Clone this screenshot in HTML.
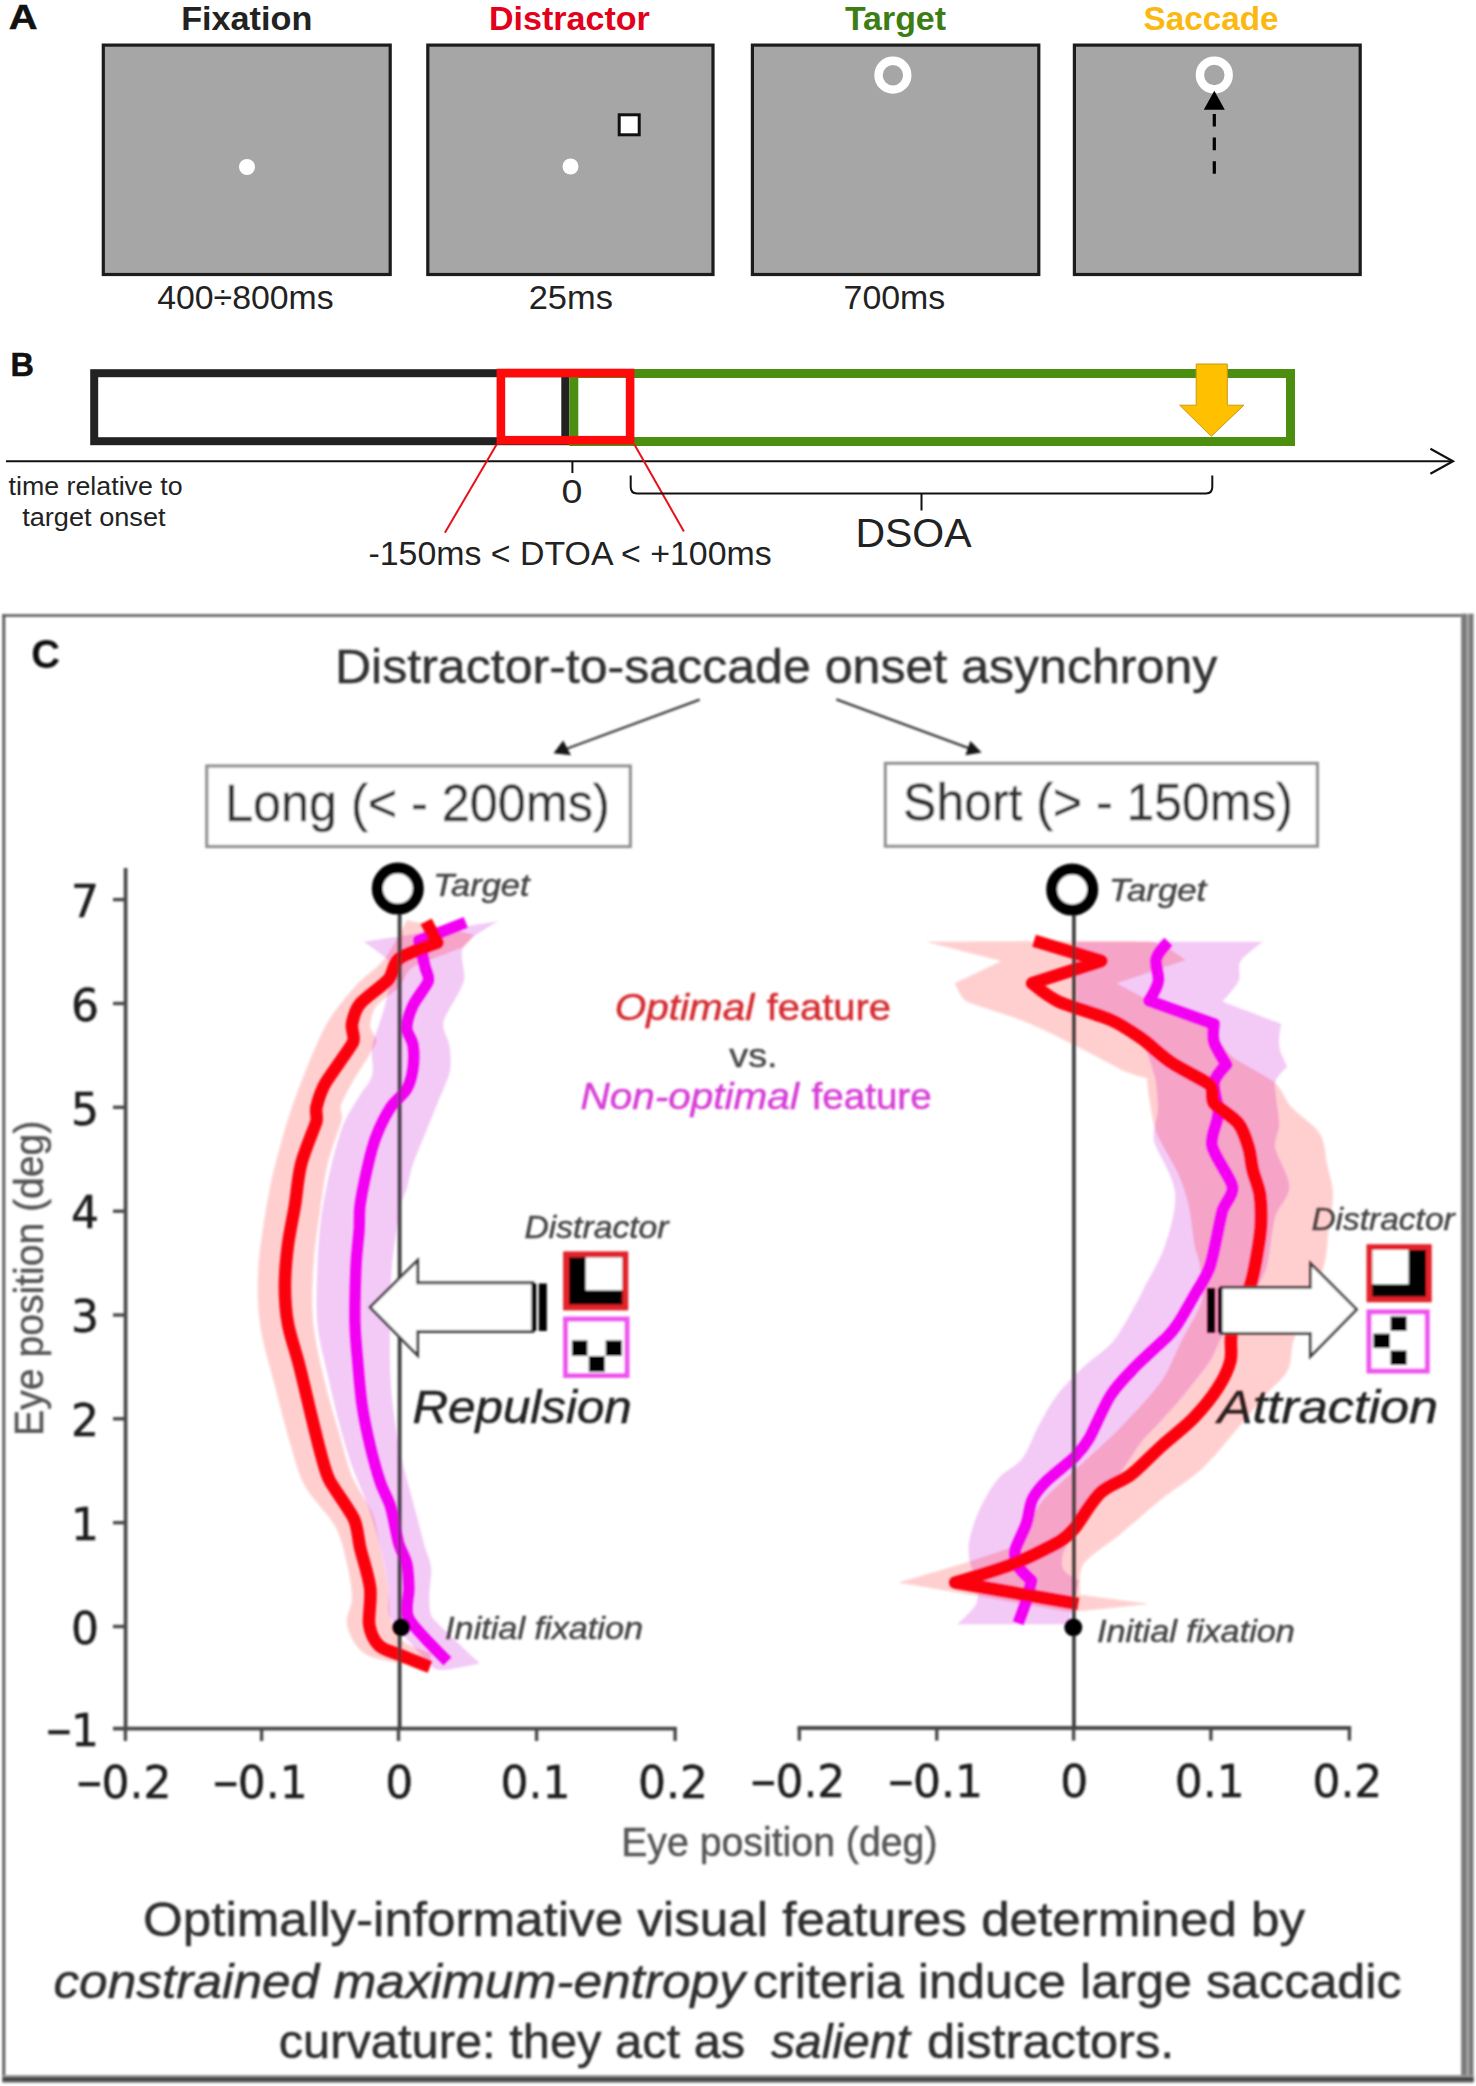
<!DOCTYPE html>
<html lang="en"><head><meta charset="utf-8"><title>Figure</title>
<style>html,body{margin:0;padding:0;background:#fff}svg{display:block}text{font-family:"Liberation Sans",sans-serif}</style>
</head><body>
<svg width="1476" height="2086" viewBox="0 0 1476 2086">
<rect x="0" y="0" width="1476" height="2086" fill="#fff"/>
<g id="panelA">
<text x="8.8" y="29.0" font-size="35" fill="#111" font-weight="bold" textLength="28.8" lengthAdjust="spacingAndGlyphs" stroke="#111" stroke-width="0.5">A</text>
<rect x="103.3" y="45.1" width="286.9" height="229.4" fill="#a6a6a6" stroke="#1c1c1c" stroke-width="3.2"/>
<rect x="427.8" y="45.1" width="285.2" height="229.4" fill="#a6a6a6" stroke="#1c1c1c" stroke-width="3.2"/>
<rect x="752.4" y="45.1" width="286.4" height="229.4" fill="#a6a6a6" stroke="#1c1c1c" stroke-width="3.2"/>
<rect x="1074.4" y="45.1" width="285.8" height="229.4" fill="#a6a6a6" stroke="#1c1c1c" stroke-width="3.2"/>
<text x="181.2" y="30.0" font-size="33" fill="#222" font-weight="bold" textLength="131.1" lengthAdjust="spacingAndGlyphs">Fixation</text>
<text x="489.0" y="30.0" font-size="33" fill="#e2001a" font-weight="bold" textLength="160.8" lengthAdjust="spacingAndGlyphs">Distractor</text>
<text x="844.9" y="30.0" font-size="33" fill="#3c7d14" font-weight="bold" textLength="101.1" lengthAdjust="spacingAndGlyphs">Target</text>
<text x="1143.6" y="30.0" font-size="33" fill="#fbb811" font-weight="bold" textLength="135.0" lengthAdjust="spacingAndGlyphs">Saccade</text>
<text x="157.2" y="309.0" font-size="33" fill="#222" textLength="176.4" lengthAdjust="spacingAndGlyphs">400÷800ms</text>
<text x="528.7" y="309.0" font-size="33" fill="#222" textLength="84.2" lengthAdjust="spacingAndGlyphs">25ms</text>
<text x="843.6" y="309.0" font-size="33" fill="#222" textLength="101.7" lengthAdjust="spacingAndGlyphs">700ms</text>
<circle cx="247" cy="167" r="8" fill="#fff"/>
<circle cx="570.5" cy="166.5" r="8" fill="#fff"/>
<rect x="619.2" y="114.8" width="20" height="20" fill="#fff" stroke="#111" stroke-width="3"/>
<circle cx="892.9" cy="75.2" r="14.4" fill="#a6a6a6" stroke="#fff" stroke-width="8.4"/>
<circle cx="1214.3" cy="75" r="14.4" fill="#a6a6a6" stroke="#fff" stroke-width="8.4"/>
<polygon points="1214.3,90.7 1224.8,109.7 1203.8,109.7" fill="#000"/>
<line x1="1214.3" y1="114" x2="1214.3" y2="174.5" stroke="#000" stroke-width="3.2" stroke-dasharray="12.6 11"/>
</g>
<g id="panelB">
<text x="10.6" y="376.0" font-size="32.5" fill="#111" font-weight="bold" stroke="#111" stroke-width="0.5">B</text>
<rect x="94.2" y="373.2" width="471.1" height="68" fill="#fff" stroke="#222" stroke-width="8"/>
<rect x="573.8" y="373.5" width="716.7" height="68" fill="#fff" stroke="#4c8f10" stroke-width="9"/>
<rect x="500.9" y="373" width="129.2" height="67.2" fill="none" stroke="#ff0a0a" stroke-width="8.6"/>
<line x1="6" y1="461.3" x2="1452" y2="461.3" stroke="#111" stroke-width="2"/>
<polyline points="1430.4,448.8 1453,461.3 1430.4,473.8" fill="none" stroke="#111" stroke-width="2.2"/>
<line x1="572.4" y1="461" x2="572.4" y2="473" stroke="#111" stroke-width="2"/>
<line x1="496.6" y1="444.4" x2="444.9" y2="532.7" stroke="#e8101a" stroke-width="2"/>
<line x1="634.4" y1="444.4" x2="683.9" y2="531.5" stroke="#e8101a" stroke-width="2"/>
<path d="M630.7,475.4 V487 Q630.7,493.4 637,493.4 H1206 Q1212.3,493.4 1212.3,487 V475.4 M921.5,493.4 V510.5" fill="none" stroke="#111" stroke-width="2"/>
<polygon points="1196.2,364 1227.3,364 1227.3,405.2 1243.9,405.2 1211.3,436.3 1179.7,405.2 1196.2,405.2" fill="#ffc000" stroke="#c79a10" stroke-width="1"/>
<text x="8.6" y="495.4" font-size="26.5" fill="#222" textLength="174.0" lengthAdjust="spacingAndGlyphs">time relative to</text>
<text x="22.2" y="525.5" font-size="26.5" fill="#222" textLength="143.4" lengthAdjust="spacingAndGlyphs">target onset</text>
<text x="561.5" y="503.4" font-size="33" fill="#222" textLength="20.9" lengthAdjust="spacingAndGlyphs">0</text>
<text x="368.5" y="565.0" font-size="33.4" fill="#222" textLength="403.2" lengthAdjust="spacingAndGlyphs">-150ms &lt; DTOA &lt; +100ms</text>
<text x="855.4" y="546.6" font-size="40" fill="#222" textLength="116.2" lengthAdjust="spacingAndGlyphs">DSOA</text>
</g>
<defs><filter id="soft" x="-2%" y="-2%" width="104%" height="104%"><feGaussianBlur stdDeviation="0.8"/></filter></defs>
<g id="panelC" filter="url(#soft)">
<rect x="2.3" y="614.2" width="1471" height="2.6" fill="#5e5e5e"/>
<rect x="2.3" y="614.2" width="3" height="1468" fill="#5e5e5e"/>
<rect x="1461" y="613.8" width="12.6" height="1468" fill="#a8a8a8"/>
<rect x="1461.4" y="613.8" width="5.2" height="1468" fill="#7a7a7a"/>
<rect x="1469" y="613.8" width="4.2" height="1468" fill="#7a7a7a"/>
<rect x="2.6" y="2075" width="1471" height="8" fill="#9a9a9a"/>
<rect x="2.6" y="2077" width="1471" height="4.6" fill="#474747"/>
<text x="31.2" y="668.0" font-size="40" fill="#111" font-weight="bold">C</text>
<text x="334.9" y="682.7" font-size="49" fill="#333" textLength="882.4" lengthAdjust="spacingAndGlyphs" stroke="#333" stroke-width="0.5">Distractor-to-saccade onset asynchrony</text>
<line x1="699.7" y1="699.6" x2="566" y2="749" stroke="#3a3a3a" stroke-width="2.3"/>
<polygon points="553.5,753.3 563.2,740.5 571,755.2" fill="#161616"/>
<line x1="836.3" y1="699.3" x2="970" y2="748.6" stroke="#3a3a3a" stroke-width="2.3"/>
<polygon points="981.6,752.6 970.4,741.1 965.4,755.3" fill="#161616"/>
<rect x="206.8" y="766" width="423.5" height="80.5" fill="#fff" stroke="#919191" stroke-width="3.2"/>
<rect x="885.4" y="763.4" width="432" height="82.8" fill="#fff" stroke="#919191" stroke-width="3.2"/>
<text x="224.9" y="821.0" font-size="51" fill="#333" textLength="384.8" lengthAdjust="spacingAndGlyphs" stroke="#333" stroke-width="0.5">Long (&lt; - 200ms)</text>
<text x="903.1" y="819.6" font-size="51" fill="#333" textLength="389.9" lengthAdjust="spacingAndGlyphs" stroke="#333" stroke-width="0.5">Short (&gt; - 150ms)</text>
<path d="M364.1,941.7 C364.1,941.7 381.3,954.0 384.5,956.9 C387.7,959.8 392.6,962.7 392.6,967.0 C392.6,971.3 388.3,993.0 385.0,1005.7 C381.7,1018.4 374.0,1037.0 372.3,1046.3 C370.6,1055.6 374.2,1067.1 372.3,1074.8 C370.4,1082.5 364.1,1088.3 360.1,1095.1 C356.1,1101.9 348.0,1113.5 343.8,1123.6 C339.6,1133.7 334.9,1150.5 331.6,1164.2 C328.3,1177.9 323.9,1198.1 321.5,1215.0 C319.1,1231.9 318.0,1248.9 317.4,1265.9 C316.8,1282.9 315.8,1306.8 317.4,1324.0 C319.0,1341.2 323.9,1357.9 327.6,1374.8 C331.3,1391.7 336.2,1411.9 339.8,1425.6 C343.4,1439.3 347.3,1452.9 352.0,1466.3 C356.7,1479.7 363.5,1493.5 368.2,1506.9 C372.9,1520.3 377.1,1534.2 380.4,1547.6 C383.7,1561.0 387.1,1578.1 388.5,1588.2 C389.9,1598.3 385.6,1609.8 390.6,1618.7 C395.6,1627.6 429.7,1664.3 433.3,1667.5 C436.9,1670.7 442.7,1669.9 447.5,1669.5 C452.3,1669.1 480.0,1663.4 480.0,1663.4 C480.0,1663.4 437.6,1624.1 433.3,1618.7 C429.0,1613.3 429.5,1605.3 429.2,1598.4 C428.9,1591.5 431.8,1574.9 431.2,1567.9 C430.6,1560.9 427.0,1554.4 425.1,1547.6 C423.2,1540.8 419.7,1527.3 417.0,1517.1 C414.3,1506.9 411.5,1496.8 408.9,1486.6 C406.3,1476.4 401.1,1459.7 398.7,1446.0 C396.3,1432.3 392.4,1405.3 391.0,1385.0 C389.6,1364.7 389.8,1343.4 390.0,1324.0 C390.2,1304.6 390.3,1285.2 392.0,1265.9 C393.7,1246.6 399.6,1210.6 400.7,1204.9 C401.8,1199.2 405.1,1194.2 406.8,1188.6 C408.5,1183.0 410.1,1172.1 412.9,1164.2 C415.7,1156.3 427.9,1126.9 433.3,1113.4 C438.7,1099.9 447.4,1081.4 449.5,1072.8 C451.6,1064.2 450.5,1054.6 449.5,1046.3 C448.5,1038.0 441.6,1030.2 443.4,1022.0 C445.2,1013.8 460.7,992.4 463.7,981.3 C466.7,970.2 457.9,956.7 463.7,946.7 C469.5,936.7 498.3,921.3 498.3,921.3 C498.3,921.3 364.1,941.7 364.1,941.7Z" fill="rgba(215,75,225,0.30)"/>
<path d="M406.8,920.3 C406.8,920.3 392.5,948.7 384.5,958.9 C376.5,969.1 364.6,975.7 356.0,985.4 C347.4,995.1 333.6,1011.1 325.5,1026.0 C317.4,1040.9 303.4,1076.5 297.1,1093.1 C290.8,1109.7 285.5,1127.1 280.8,1143.9 C276.1,1160.7 271.7,1177.6 268.6,1194.7 C265.5,1211.8 259.8,1246.6 258.5,1265.9 C257.2,1285.2 257.4,1304.8 260.0,1324.0 C262.6,1343.2 269.5,1364.7 274.7,1385.0 C279.9,1405.3 286.9,1432.3 291.0,1446.0 C295.1,1459.7 298.3,1474.0 305.2,1486.6 C312.1,1499.2 329.1,1514.8 335.7,1527.3 C342.3,1539.8 345.6,1557.9 347.9,1567.9 C350.2,1577.9 352.2,1590.1 352.0,1598.4 C351.8,1606.7 346.2,1615.0 346.9,1622.8 C347.6,1630.6 352.0,1639.6 356.0,1645.1 C360.0,1650.6 365.9,1655.2 372.3,1657.3 C378.7,1659.4 429.2,1669.5 429.2,1669.5 C429.2,1669.5 431.2,1653.3 431.2,1653.3 C431.2,1653.3 409.2,1646.5 402.8,1641.0 C396.4,1635.5 392.8,1626.9 390.6,1618.7 C388.4,1610.5 389.9,1598.3 388.5,1588.2 C387.1,1578.1 382.9,1559.2 380.4,1547.6 C377.9,1536.0 376.7,1524.0 372.3,1513.0 C367.9,1502.0 357.4,1489.3 352.0,1476.4 C346.6,1463.5 343.7,1449.4 339.8,1435.8 C335.9,1422.2 329.6,1402.1 325.5,1385.0 C321.4,1367.9 315.3,1343.3 313.3,1324.0 C311.3,1304.7 312.3,1283.0 313.3,1265.9 C314.3,1248.8 317.0,1231.9 319.4,1215.0 C321.8,1198.1 324.0,1179.4 327.6,1164.2 C331.2,1149.0 340.8,1124.1 341.8,1119.5 C342.8,1114.9 339.5,1109.9 340.8,1105.3 C342.1,1100.7 347.9,1090.2 352.0,1082.9 C356.1,1075.6 374.5,1047.8 376.3,1042.3 C378.1,1036.8 370.2,1031.8 370.2,1026.0 C370.2,1020.2 372.1,1011.4 376.3,1005.7 C380.5,1000.0 393.0,993.4 398.7,987.4 C404.4,981.4 405.9,971.5 412.9,967.1 C419.9,962.7 459.0,949.2 463.7,946.7 C468.4,944.2 473.9,934.6 473.9,934.6 C473.9,934.6 406.8,920.3 406.8,920.3Z" fill="rgba(255,30,30,0.22)"/>
<path d="M1077.0,941.7 C1077.0,941.7 1262.9,941.7 1262.9,941.7 C1262.9,941.7 1244.2,955.2 1240.6,961.0 C1237.0,966.8 1241.3,975.1 1238.5,981.3 C1235.7,987.5 1222.3,1001.6 1222.3,1001.6 C1222.3,1001.6 1281.2,1024.0 1281.2,1024.0 C1281.2,1024.0 1278.2,1039.2 1279.2,1046.3 C1280.2,1053.4 1287.3,1066.7 1287.3,1066.7 C1287.3,1066.7 1276.1,1076.2 1275.1,1082.9 C1274.1,1089.6 1279.2,1115.4 1279.2,1123.6 C1279.2,1131.8 1273.8,1139.9 1275.1,1148.0 C1276.4,1156.1 1289.3,1175.4 1289.3,1186.6 C1289.3,1197.8 1278.1,1206.3 1275.1,1217.1 C1272.1,1227.9 1269.4,1257.2 1267.0,1265.9 C1264.6,1274.6 1259.8,1282.4 1255.0,1290.0 C1250.2,1297.6 1226.8,1329.0 1222.0,1336.6 C1217.2,1344.2 1215.1,1353.5 1210.1,1361.0 C1205.1,1368.5 1188.5,1389.2 1181.6,1397.6 C1174.7,1406.0 1166.2,1415.1 1160.0,1422.0 C1153.8,1428.9 1146.6,1434.9 1141.0,1442.3 C1135.4,1449.7 1120.2,1474.6 1113.7,1482.9 C1107.2,1491.2 1097.6,1497.8 1091.4,1505.3 C1085.2,1512.8 1079.7,1521.8 1075.1,1529.7 C1070.5,1537.6 1064.3,1548.9 1062.9,1554.1 C1061.5,1559.3 1061.2,1565.9 1063.9,1570.3 C1066.6,1574.7 1079.2,1580.5 1079.2,1580.5 C1079.2,1580.5 1074.6,1598.5 1073.1,1604.9 C1071.6,1611.3 1069.0,1624.2 1069.0,1624.2 C1069.0,1624.2 957.2,1624.2 957.2,1624.2 C957.2,1624.2 972.4,1610.9 975.5,1604.9 C978.6,1598.9 978.5,1591.3 977.6,1584.6 C976.7,1577.9 970.6,1566.9 969.4,1560.2 C968.2,1553.5 968.1,1546.5 969.4,1539.8 C970.7,1533.1 975.1,1519.0 979.6,1509.3 C984.1,1499.6 991.1,1487.0 997.9,1478.9 C1004.7,1470.8 1015.8,1466.9 1022.3,1458.5 C1028.8,1450.1 1032.8,1436.4 1038.5,1426.0 C1044.2,1415.6 1049.6,1404.9 1056.8,1395.5 C1064.0,1386.1 1074.0,1376.1 1083.3,1367.1 C1092.6,1358.1 1105.2,1351.1 1113.7,1340.7 C1122.2,1330.3 1135.4,1304.5 1138.0,1300.0 C1140.6,1295.5 1142.7,1290.7 1145.0,1286.0 C1147.3,1281.3 1160.4,1259.8 1165.0,1245.5 C1169.6,1231.2 1176.8,1209.4 1175.0,1192.0 C1173.2,1174.6 1156.1,1151.2 1154.0,1141.0 C1151.9,1130.8 1157.7,1119.0 1158.0,1110.0 C1158.3,1101.0 1156.3,1086.1 1156.0,1083.0 C1155.7,1079.9 1155.1,1076.9 1154.0,1074.0 C1152.9,1071.1 1148.3,1050.7 1141.0,1042.0 C1133.7,1033.3 1120.6,1027.6 1110.0,1022.0 C1099.4,1016.4 1077.0,1008.0 1077.0,1008.0 C1077.0,1008.0 1077.0,941.7 1077.0,941.7Z" fill="rgba(215,75,225,0.30)"/>
<path d="M926.4,941.7 C926.4,941.7 1136.7,940.8 1150.0,941.7 C1163.3,942.6 1185.7,960.0 1185.7,960.0 C1185.7,960.0 1116.6,983.3 1116.6,983.3 C1116.6,983.3 1137.8,995.3 1149.0,1000.0 C1160.2,1004.7 1208.5,1020.7 1214.0,1024.0 C1219.5,1027.3 1216.9,1036.8 1220.2,1042.3 C1223.5,1047.8 1228.7,1054.2 1234.5,1058.5 C1240.3,1062.8 1267.7,1076.5 1275.1,1082.9 C1282.5,1089.3 1284.9,1100.0 1291.4,1107.3 C1297.9,1114.6 1314.3,1124.8 1319.8,1133.7 C1325.3,1142.6 1324.8,1154.1 1327.0,1164.2 C1329.2,1174.3 1332.9,1184.3 1333.0,1194.7 C1333.1,1205.1 1329.3,1225.2 1328.0,1235.4 C1326.7,1245.6 1326.7,1256.0 1323.9,1265.9 C1321.1,1275.8 1314.6,1288.6 1310.0,1300.0 C1305.4,1311.4 1296.5,1330.9 1293.4,1340.7 C1290.3,1350.5 1292.2,1362.0 1287.3,1371.1 C1282.4,1380.2 1270.8,1388.5 1262.9,1397.6 C1255.0,1406.7 1244.2,1420.8 1234.5,1432.1 C1224.8,1443.4 1214.0,1457.7 1202.0,1468.7 C1190.0,1479.7 1174.5,1488.6 1161.3,1499.2 C1148.1,1509.8 1133.1,1523.4 1120.7,1533.7 C1108.3,1544.0 1089.0,1555.7 1083.3,1564.2 C1077.6,1572.7 1080.2,1594.7 1080.2,1594.7 C1080.2,1594.7 1148.3,1603.9 1148.3,1603.9 C1148.3,1603.9 1085.9,1610.5 1080.2,1611.0 C1074.5,1611.5 1068.6,1611.8 1062.9,1611.0 C1057.2,1610.2 1008.7,1601.4 981.6,1596.7 C954.5,1592.0 898.3,1582.5 898.3,1582.5 C898.3,1582.5 949.0,1567.9 967.4,1562.2 C985.8,1556.5 1022.3,1543.9 1022.3,1543.9 C1022.3,1543.9 1021.7,1541.0 1022.3,1539.8 C1022.9,1538.6 1032.2,1514.0 1040.6,1503.3 C1049.0,1492.6 1070.4,1474.8 1083.3,1462.6 C1096.2,1450.4 1109.7,1438.8 1122.0,1426.0 C1134.3,1413.2 1152.6,1393.7 1161.3,1381.3 C1170.0,1368.9 1174.8,1354.2 1181.6,1340.7 C1188.4,1327.2 1199.3,1311.1 1202.0,1300.0 C1204.7,1288.9 1200.9,1272.9 1200.0,1265.9 C1199.1,1258.9 1196.0,1252.4 1194.7,1245.5 C1193.4,1238.6 1191.0,1215.3 1188.6,1204.9 C1186.2,1194.5 1182.8,1184.2 1178.5,1174.4 C1174.2,1164.6 1160.9,1143.4 1157.0,1133.7 C1153.1,1124.0 1151.5,1111.7 1150.0,1103.3 C1148.5,1094.9 1147.0,1078.0 1147.0,1078.0 C1147.0,1078.0 1131.0,1074.1 1123.6,1070.7 C1116.2,1067.3 1092.5,1054.2 1076.8,1046.3 C1061.1,1038.4 1043.4,1029.1 1026.0,1022.0 C1008.6,1014.9 973.4,1005.1 967.0,1001.6 C960.6,998.1 954.9,983.3 954.9,983.3 C954.9,983.3 1001.6,961.0 1001.6,961.0 C1001.6,961.0 926.4,941.7 926.4,941.7Z" fill="rgba(255,30,30,0.22)"/>
<line x1="125.6" y1="868" x2="125.6" y2="1730.5" stroke="#4a4a4a" stroke-width="3.8"/>
<line x1="113" y1="1728.6" x2="676.8" y2="1728.6" stroke="#4a4a4a" stroke-width="3.8"/>
<line x1="797.5" y1="1728" x2="1351.2" y2="1728" stroke="#4a4a4a" stroke-width="3.8"/>
<line x1="113" y1="899.6" x2="125.6" y2="899.6" stroke="#4a4a4a" stroke-width="3.4"/>
<text y="916.8" font-size="44" fill="#1e1e1e" stroke="#1e1e1e" stroke-width="0.5" style='font-family:"DejaVu Sans", "Liberation Sans", sans-serif'><tspan x="71.0">7</tspan></text>
<line x1="113" y1="1003.5" x2="125.6" y2="1003.5" stroke="#4a4a4a" stroke-width="3.4"/>
<text y="1020.7" font-size="44" fill="#1e1e1e" stroke="#1e1e1e" stroke-width="0.5" style='font-family:"DejaVu Sans", "Liberation Sans", sans-serif'><tspan x="71.0">6</tspan></text>
<line x1="113" y1="1107.3" x2="125.6" y2="1107.3" stroke="#4a4a4a" stroke-width="3.4"/>
<text y="1124.5" font-size="44" fill="#1e1e1e" stroke="#1e1e1e" stroke-width="0.5" style='font-family:"DejaVu Sans", "Liberation Sans", sans-serif'><tspan x="71.0">5</tspan></text>
<line x1="113" y1="1211.2" x2="125.6" y2="1211.2" stroke="#4a4a4a" stroke-width="3.4"/>
<text y="1228.4" font-size="44" fill="#1e1e1e" stroke="#1e1e1e" stroke-width="0.5" style='font-family:"DejaVu Sans", "Liberation Sans", sans-serif'><tspan x="71.0">4</tspan></text>
<line x1="113" y1="1315.0" x2="125.6" y2="1315.0" stroke="#4a4a4a" stroke-width="3.4"/>
<text y="1332.2" font-size="44" fill="#1e1e1e" stroke="#1e1e1e" stroke-width="0.5" style='font-family:"DejaVu Sans", "Liberation Sans", sans-serif'><tspan x="71.0">3</tspan></text>
<line x1="113" y1="1418.8" x2="125.6" y2="1418.8" stroke="#4a4a4a" stroke-width="3.4"/>
<text y="1436.0" font-size="44" fill="#1e1e1e" stroke="#1e1e1e" stroke-width="0.5" style='font-family:"DejaVu Sans", "Liberation Sans", sans-serif'><tspan x="71.0">2</tspan></text>
<line x1="113" y1="1522.7" x2="125.6" y2="1522.7" stroke="#4a4a4a" stroke-width="3.4"/>
<text y="1539.9" font-size="44" fill="#1e1e1e" stroke="#1e1e1e" stroke-width="0.5" style='font-family:"DejaVu Sans", "Liberation Sans", sans-serif'><tspan x="71.0">1</tspan></text>
<line x1="113" y1="1626.5" x2="125.6" y2="1626.5" stroke="#4a4a4a" stroke-width="3.4"/>
<text y="1643.8" font-size="44" fill="#1e1e1e" stroke="#1e1e1e" stroke-width="0.5" style='font-family:"DejaVu Sans", "Liberation Sans", sans-serif'><tspan x="71.0">0</tspan></text>
<text y="1745.8" font-size="44" fill="#1e1e1e" stroke="#1e1e1e" stroke-width="0.5" style='font-family:"DejaVu Sans", "Liberation Sans", sans-serif'><tspan x="45.0" textLength="28.0" lengthAdjust="spacingAndGlyphs">−</tspan><tspan x="71.0">1</tspan></text>
<line x1="125.4" y1="1728.6" x2="125.4" y2="1741" stroke="#4a4a4a" stroke-width="3.4"/>
<line x1="261.6" y1="1728.6" x2="261.6" y2="1741" stroke="#4a4a4a" stroke-width="3.4"/>
<line x1="398.5" y1="1728.6" x2="398.5" y2="1741" stroke="#4a4a4a" stroke-width="3.4"/>
<line x1="536.6" y1="1728.6" x2="536.6" y2="1741" stroke="#4a4a4a" stroke-width="3.4"/>
<line x1="675.1" y1="1728.6" x2="675.1" y2="1741" stroke="#4a4a4a" stroke-width="3.4"/>
<line x1="799.3" y1="1728" x2="799.3" y2="1740.6" stroke="#4a4a4a" stroke-width="3.4"/>
<line x1="936.8" y1="1728" x2="936.8" y2="1740.6" stroke="#4a4a4a" stroke-width="3.4"/>
<line x1="1073.6" y1="1728" x2="1073.6" y2="1740.6" stroke="#4a4a4a" stroke-width="3.4"/>
<line x1="1210.9" y1="1728" x2="1210.9" y2="1740.6" stroke="#4a4a4a" stroke-width="3.4"/>
<line x1="1349.4" y1="1728" x2="1349.4" y2="1740.6" stroke="#4a4a4a" stroke-width="3.4"/>
<text y="1797.6" font-size="44" fill="#1e1e1e" stroke="#1e1e1e" stroke-width="0.5" style='font-family:"DejaVu Sans", "Liberation Sans", sans-serif'><tspan x="75.5" textLength="28.0" lengthAdjust="spacingAndGlyphs">−</tspan><tspan x="101.5">0.2</tspan></text>
<text y="1797.6" font-size="44" fill="#1e1e1e" stroke="#1e1e1e" stroke-width="0.5" style='font-family:"DejaVu Sans", "Liberation Sans", sans-serif'><tspan x="211.8" textLength="28.0" lengthAdjust="spacingAndGlyphs">−</tspan><tspan x="237.8">0.1</tspan></text>
<text y="1797.6" font-size="44" fill="#1e1e1e" stroke="#1e1e1e" stroke-width="0.5" style='font-family:"DejaVu Sans", "Liberation Sans", sans-serif'><tspan x="385.2">0</tspan></text>
<text y="1797.6" font-size="44" fill="#1e1e1e" stroke="#1e1e1e" stroke-width="0.5" style='font-family:"DejaVu Sans", "Liberation Sans", sans-serif'><tspan x="500.5">0.1</tspan></text>
<text y="1797.6" font-size="44" fill="#1e1e1e" stroke="#1e1e1e" stroke-width="0.5" style='font-family:"DejaVu Sans", "Liberation Sans", sans-serif'><tspan x="638.1">0.2</tspan></text>
<text y="1797.2" font-size="44" fill="#1e1e1e" stroke="#1e1e1e" stroke-width="0.5" style='font-family:"DejaVu Sans", "Liberation Sans", sans-serif'><tspan x="749.4" textLength="28.0" lengthAdjust="spacingAndGlyphs">−</tspan><tspan x="775.4">0.2</tspan></text>
<text y="1797.2" font-size="44" fill="#1e1e1e" stroke="#1e1e1e" stroke-width="0.5" style='font-family:"DejaVu Sans", "Liberation Sans", sans-serif'><tspan x="887.0" textLength="28.0" lengthAdjust="spacingAndGlyphs">−</tspan><tspan x="913.0">0.1</tspan></text>
<text y="1797.2" font-size="44" fill="#1e1e1e" stroke="#1e1e1e" stroke-width="0.5" style='font-family:"DejaVu Sans", "Liberation Sans", sans-serif'><tspan x="1060.3">0</tspan></text>
<text y="1797.2" font-size="44" fill="#1e1e1e" stroke="#1e1e1e" stroke-width="0.5" style='font-family:"DejaVu Sans", "Liberation Sans", sans-serif'><tspan x="1174.8">0.1</tspan></text>
<text y="1797.2" font-size="44" fill="#1e1e1e" stroke="#1e1e1e" stroke-width="0.5" style='font-family:"DejaVu Sans", "Liberation Sans", sans-serif'><tspan x="1312.4">0.2</tspan></text>
<line x1="399.6" y1="912" x2="399.6" y2="1729" stroke="#404040" stroke-width="3.6"/>
<line x1="1073.9" y1="912" x2="1073.9" y2="1728" stroke="#404040" stroke-width="3.6"/>
<path d="M465.8,922.4 C465.8,922.4 419.0,940.7 419.0,940.7 C419.0,940.7 424.0,962.4 425.1,967.1 C426.2,971.8 429.7,976.7 428.2,981.3 C426.7,985.9 416.1,998.7 412.9,1005.7 C409.7,1012.7 406.8,1022.2 406.8,1028.0 C406.8,1033.8 412.0,1038.6 412.9,1044.3 C413.8,1050.0 413.9,1061.7 412.9,1068.7 C411.9,1075.7 410.3,1082.9 406.8,1089.0 C403.3,1095.1 395.0,1100.5 390.6,1107.3 C386.2,1114.1 379.9,1126.6 376.3,1135.8 C372.7,1145.0 370.4,1154.6 368.2,1164.2 C366.0,1173.8 361.2,1196.8 360.1,1204.9 C359.0,1213.0 359.6,1221.2 359.1,1229.3 C358.6,1237.4 356.5,1253.7 356.0,1265.9 C355.5,1278.1 354.7,1310.4 355.0,1324.0 C355.3,1337.6 356.8,1351.2 358.0,1364.7 C359.2,1378.2 360.1,1391.8 362.1,1405.3 C364.1,1418.8 367.3,1433.7 370.2,1446.0 C373.1,1458.3 377.6,1474.1 380.4,1482.5 C383.2,1490.9 388.1,1498.5 390.6,1506.9 C393.1,1515.3 396.7,1536.5 398.7,1543.5 C400.7,1550.5 405.2,1556.7 406.8,1563.8 C408.4,1570.9 408.6,1580.0 408.9,1588.2 C409.2,1596.4 404.2,1609.7 408.9,1618.7 C413.6,1627.7 447.5,1661.4 447.5,1661.4" fill="none" stroke="#f202f2" stroke-width="11.5" stroke-linejoin="round"/>
<path d="M426.1,921.3 C426.1,921.3 437.3,942.7 437.3,942.7 C437.3,942.7 404.8,954.3 398.7,958.9 C392.6,963.5 393.5,973.5 388.5,979.3 C383.5,985.1 364.7,998.1 360.1,1003.7 C355.5,1009.3 353.1,1018.0 352.0,1024.0 C350.9,1030.0 355.5,1036.7 353.0,1042.3 C350.5,1047.9 329.8,1075.3 325.5,1082.9 C321.2,1090.5 317.5,1102.7 316.4,1107.3 C315.3,1111.9 317.6,1116.9 316.4,1121.5 C315.2,1126.1 304.5,1150.9 301.1,1164.2 C297.7,1177.5 297.2,1191.4 295.0,1204.9 C292.8,1218.4 289.6,1232.0 287.9,1245.5 C286.2,1259.0 284.9,1273.6 284.9,1286.2 C284.9,1298.8 285.7,1311.6 288.0,1324.0 C290.3,1336.4 295.6,1351.1 299.1,1364.7 C302.6,1378.3 308.0,1401.9 311.3,1415.5 C314.6,1429.1 319.2,1447.9 321.5,1456.1 C323.8,1464.3 325.7,1472.9 329.6,1480.5 C333.5,1488.1 350.0,1510.3 354.0,1519.1 C358.0,1527.9 357.9,1538.1 360.1,1547.6 C362.3,1557.1 368.8,1576.1 370.2,1588.2 C371.6,1600.3 368.0,1617.3 369.2,1624.8 C370.4,1632.3 373.9,1640.5 379.0,1645.5 C384.1,1650.5 392.9,1652.0 400.0,1655.0 C407.1,1658.0 430.0,1667.0 430.0,1667.0" fill="none" stroke="#fb0007" stroke-width="12.5" stroke-linejoin="round"/>
<path d="M1168.4,941.7 C1168.4,941.7 1157.9,952.3 1156.2,958.9 C1154.5,965.5 1159.5,974.3 1158.3,981.3 C1157.1,988.2 1149.1,1000.6 1149.1,1000.6 C1149.1,1000.6 1214.1,1024.0 1214.1,1024.0 C1214.1,1024.0 1212.3,1036.5 1214.1,1042.3 C1215.9,1048.1 1226.3,1064.6 1226.3,1064.6 C1226.3,1064.6 1215.3,1075.7 1214.1,1082.9 C1212.9,1090.1 1218.5,1103.1 1218.2,1113.4 C1217.9,1123.7 1210.0,1135.1 1212.1,1145.9 C1214.2,1156.7 1231.0,1177.9 1232.4,1186.6 C1233.8,1195.3 1224.7,1202.5 1222.3,1211.0 C1219.9,1219.5 1213.7,1255.0 1210.1,1265.9 C1206.5,1276.8 1199.0,1287.0 1193.8,1296.3 C1188.6,1305.6 1180.6,1319.5 1177.6,1324.0 C1174.6,1328.5 1171.2,1332.8 1167.4,1336.6 C1163.6,1340.4 1143.6,1358.1 1134.9,1367.1 C1126.2,1376.1 1117.2,1385.0 1110.5,1395.5 C1103.8,1406.0 1093.2,1431.5 1089.3,1438.2 C1085.4,1444.9 1080.6,1451.0 1075.1,1456.5 C1069.6,1462.0 1052.2,1475.4 1046.7,1480.9 C1041.2,1486.4 1035.7,1492.2 1032.4,1499.2 C1029.1,1506.2 1029.0,1515.7 1026.3,1523.6 C1023.6,1531.5 1016.2,1544.6 1015.2,1550.0 C1014.2,1555.4 1015.6,1561.4 1018.2,1566.3 C1020.8,1571.2 1031.4,1580.5 1031.4,1580.5 C1031.4,1580.5 1028.4,1594.1 1026.3,1600.8 C1024.2,1607.5 1018.2,1623.2 1018.2,1623.2" fill="none" stroke="#f202f2" stroke-width="11.5" stroke-linejoin="round"/>
<path d="M1034.1,940.7 C1034.1,940.7 1101.2,961.0 1101.2,961.0 C1101.2,961.0 1032.1,983.3 1032.1,983.3 C1032.1,983.3 1048.8,997.1 1058.5,1001.6 C1068.2,1006.1 1099.7,1015.1 1110.5,1019.9 C1121.3,1024.7 1131.3,1031.4 1141.0,1038.2 C1150.7,1045.0 1160.7,1055.3 1171.5,1062.6 C1182.3,1069.9 1205.6,1080.7 1210.1,1085.0 C1214.6,1089.3 1210.4,1098.3 1214.1,1103.3 C1217.8,1108.3 1233.1,1116.6 1238.5,1123.6 C1243.9,1130.6 1246.5,1140.8 1248.7,1148.0 C1250.9,1155.2 1251.0,1163.0 1252.8,1170.3 C1254.6,1177.6 1258.7,1186.3 1259.9,1194.7 C1261.1,1203.1 1261.4,1215.0 1260.9,1225.2 C1260.4,1235.4 1258.5,1246.2 1256.8,1255.7 C1255.1,1265.2 1253.5,1275.2 1250.7,1284.1 C1247.9,1293.0 1243.1,1301.9 1240.0,1310.0 C1236.9,1318.1 1233.0,1326.1 1231.4,1334.6 C1229.8,1343.1 1232.5,1352.5 1230.4,1361.0 C1228.3,1369.5 1223.4,1379.2 1218.2,1387.4 C1213.0,1395.6 1202.8,1408.5 1193.8,1417.9 C1184.8,1427.3 1171.6,1437.0 1161.3,1446.3 C1151.0,1455.6 1140.2,1467.6 1130.8,1474.8 C1121.4,1482.0 1108.9,1484.9 1100.3,1493.1 C1091.7,1501.3 1079.8,1522.1 1075.1,1527.6 C1070.4,1533.1 1065.1,1538.3 1058.9,1541.9 C1052.7,1545.5 1028.2,1557.9 1012.1,1564.2 C996.0,1570.5 955.2,1582.5 955.2,1582.5 C955.2,1582.5 1078.2,1603.9 1078.2,1603.9" fill="none" stroke="#fb0007" stroke-width="12.5" stroke-linejoin="round"/>
<line x1="399.6" y1="912" x2="399.6" y2="1729" stroke="#404040" stroke-width="3.6" opacity="0.55"/>
<line x1="1073.9" y1="912" x2="1073.9" y2="1728" stroke="#404040" stroke-width="3.6" opacity="0.55"/>
<circle cx="397.8" cy="888.6" r="20.5" fill="#fff" stroke="#000" stroke-width="11"/>
<circle cx="1072.2" cy="889.5" r="20.5" fill="#fff" stroke="#000" stroke-width="11"/>
<circle cx="401.3" cy="1627.3" r="9" fill="#000"/>
<circle cx="1073.3" cy="1627.3" r="9" fill="#000"/>
<text x="433.2" y="895.7" font-size="32" fill="#444" font-style="italic" textLength="96.3" lengthAdjust="spacingAndGlyphs" stroke="#444" stroke-width="0.5">Target</text>
<text x="1109.0" y="900.5" font-size="32" fill="#444" font-style="italic" textLength="97.2" lengthAdjust="spacingAndGlyphs" stroke="#444" stroke-width="0.5">Target</text>
<text x="445.1" y="1639.0" font-size="32" fill="#444" font-style="italic" textLength="197.9" lengthAdjust="spacingAndGlyphs" stroke="#444" stroke-width="0.5">Initial fixation</text>
<text x="1096.9" y="1641.5" font-size="32" fill="#444" font-style="italic" textLength="198.0" lengthAdjust="spacingAndGlyphs" stroke="#444" stroke-width="0.5">Initial fixation</text>
<text x="614.7" y="1020.2" font-size="36.5" fill="#d42b30" font-style="italic" textLength="139.5" lengthAdjust="spacingAndGlyphs" stroke="#d42b30" stroke-width="0.5">Optimal</text>
<text x="766.7" y="1020.2" font-size="36.5" fill="#d42b30" textLength="124.3" lengthAdjust="spacingAndGlyphs" stroke="#d42b30" stroke-width="0.5">feature</text>
<text x="729.3" y="1067.0" font-size="33" fill="#4a4a4a" textLength="48.3" lengthAdjust="spacingAndGlyphs" stroke="#4a4a4a" stroke-width="0.5">vs.</text>
<text x="580.5" y="1109.0" font-size="36.5" fill="#d63ed6" font-style="italic" textLength="218.4" lengthAdjust="spacingAndGlyphs" stroke="#d63ed6" stroke-width="0.5">Non-optimal</text>
<text x="811.5" y="1109.0" font-size="36.5" fill="#d63ed6" textLength="120.2" lengthAdjust="spacingAndGlyphs" stroke="#d63ed6" stroke-width="0.5">feature</text>
<polygon points="370.1,1307.3 417.7,1260.2 417.7,1282.8 533,1282.8 533,1331.7 417.7,1331.7 417.7,1355.5" fill="#fff" stroke="#3c3c3c" stroke-width="2.7" stroke-linejoin="miter"/>
<rect x="531.7" y="1283.5" width="4.6" height="47.5" fill="#000"/>
<rect x="538.8" y="1283.5" width="8" height="47.5" fill="#000"/>
<polygon points="1356.5,1309.4 1310.4,1263.2 1310.4,1287.3 1221,1287.3 1221,1333.4 1310.4,1333.4 1310.4,1356.5" fill="#fff" stroke="#3c3c3c" stroke-width="2.7" stroke-linejoin="miter"/>
<rect x="1207.1" y="1288" width="8" height="44.8" fill="#000"/>
<rect x="1218" y="1288" width="4.2" height="44.8" fill="#000"/>
<text x="524.5" y="1238.2" font-size="32" fill="#444" font-style="italic" textLength="144.0" lengthAdjust="spacingAndGlyphs" stroke="#444" stroke-width="0.5">Distractor</text>
<text x="1311.4" y="1230.1" font-size="32" fill="#444" font-style="italic" textLength="143.3" lengthAdjust="spacingAndGlyphs" stroke="#444" stroke-width="0.5">Distractor</text>
<rect x="566.1" y="1254.4" width="59.2" height="53" fill="#000" stroke="#e3242b" stroke-width="6"/>
<rect x="585.6" y="1257.4" width="36.7" height="33" fill="#fff"/>
<rect x="565.6" y="1319.1" width="61.4" height="56.4" fill="#fff" stroke="#ee55ee" stroke-width="5"/>
<rect x="571.9" y="1340.4" width="15.5" height="15.5" fill="#000"/>
<rect x="605.7" y="1340.4" width="16.3" height="15.5" fill="#000"/>
<rect x="588.8" y="1356" width="16" height="15.8" fill="#000"/>
<rect x="1369.4" y="1247.1" width="59.4" height="52.3" fill="#000" stroke="#e3242b" stroke-width="5.8"/>
<rect x="1372.3" y="1250" width="36.3" height="34.3" fill="#fff"/>
<rect x="1369" y="1311.9" width="58.2" height="59.1" fill="#fff" stroke="#ee55ee" stroke-width="5"/>
<rect x="1390.6" y="1316.4" width="16" height="14.5" fill="#000"/>
<rect x="1373.5" y="1333.6" width="16.5" height="14.5" fill="#000"/>
<rect x="1390.6" y="1350.5" width="16" height="14.5" fill="#000"/>
<text x="412.4" y="1423.2" font-size="47" fill="#222" font-style="italic" textLength="219.4" lengthAdjust="spacingAndGlyphs" stroke="#222" stroke-width="0.5">Repulsion</text>
<text x="1217.7" y="1422.7" font-size="47" fill="#222" font-style="italic" textLength="220.4" lengthAdjust="spacingAndGlyphs" stroke="#222" stroke-width="0.5">Attraction</text>
<text x="621.2" y="1856.0" font-size="40" fill="#555" textLength="316.3" lengthAdjust="spacingAndGlyphs" stroke="#555" stroke-width="0.5">Eye position (deg)</text>
<text x="-1435.9" y="43.1" font-size="41" fill="#555" textLength="315.3" lengthAdjust="spacingAndGlyphs" transform="rotate(-90)" stroke="#555" stroke-width="0.5">Eye position (deg)</text>
<text x="143.0" y="1936.0" font-size="48" fill="#2e2e2e" textLength="1162.1" lengthAdjust="spacingAndGlyphs" stroke="#2e2e2e" stroke-width="0.5">Optimally-informative visual features determined by</text>
<text x="53.4" y="1997.8" font-size="48" fill="#2e2e2e" font-style="italic" textLength="691.5" lengthAdjust="spacingAndGlyphs" stroke="#2e2e2e" stroke-width="0.5">constrained maximum-entropy</text>
<text x="752.9" y="1997.8" font-size="48" fill="#2e2e2e" textLength="648.8" lengthAdjust="spacingAndGlyphs" stroke="#2e2e2e" stroke-width="0.5">criteria induce large saccadic</text>
<text x="278.7" y="2058.0" font-size="48" fill="#2e2e2e" textLength="466.5" lengthAdjust="spacingAndGlyphs" stroke="#2e2e2e" stroke-width="0.5">curvature: they act as</text>
<text x="770.9" y="2058.0" font-size="48" fill="#2e2e2e" font-style="italic" textLength="139.0" lengthAdjust="spacingAndGlyphs" stroke="#2e2e2e" stroke-width="0.5">salient</text>
<text x="926.9" y="2058.0" font-size="48" fill="#2e2e2e" textLength="247.4" lengthAdjust="spacingAndGlyphs" stroke="#2e2e2e" stroke-width="0.5">distractors.</text>
</g>
</svg>
</body></html>
